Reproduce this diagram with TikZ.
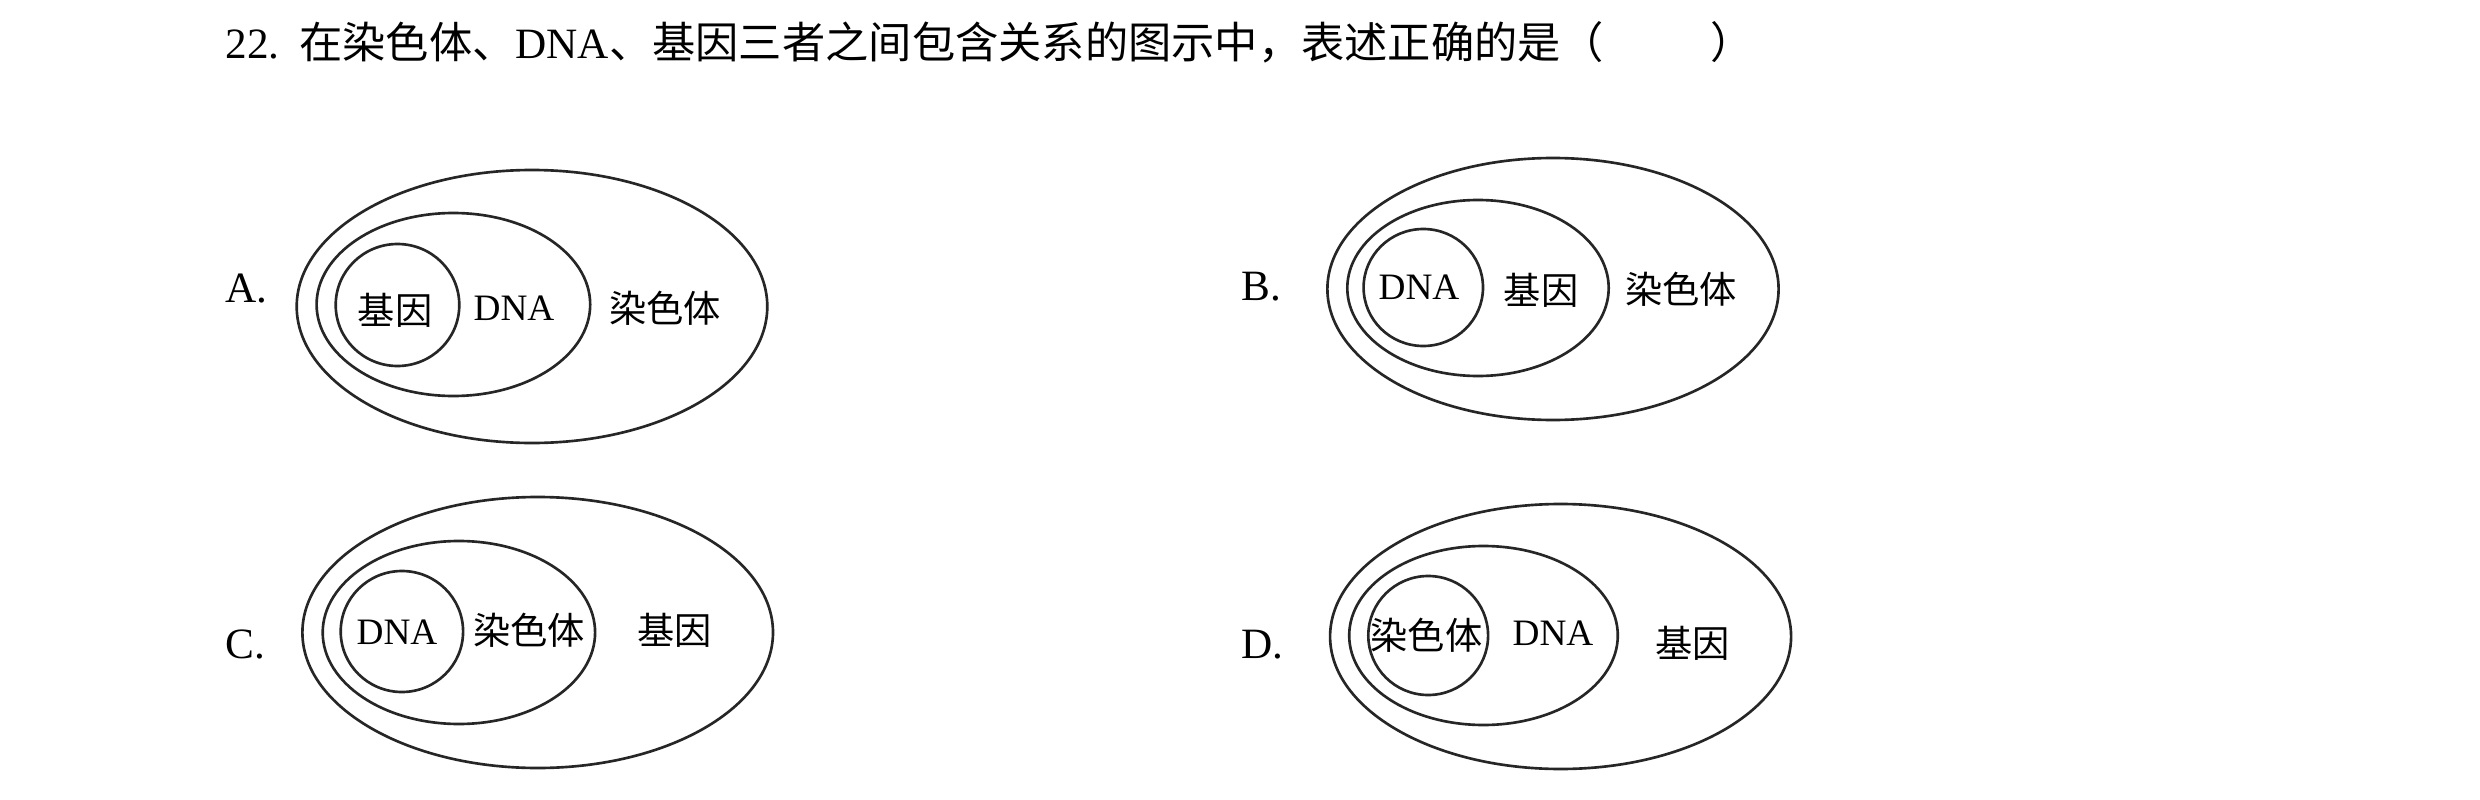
\documentclass[tikz,border=0pt]{standalone}
\usepackage{fontspec}
\setmainfont{Liberation Serif}
\newfontfamily\cjk{Noto Sans CJK SC}
\tikzset{
  ring/.style={draw=black!85, line width=0.75pt},
  lab/.style={inner sep=0pt, font=\fontsize{10.6pt}{12pt}\selectfont},
  opt/.style={inner sep=0pt, anchor=base west, font=\fontsize{12.3pt}{14pt}\selectfont},
}
\begin{document}
\begin{tikzpicture}[x=0.01cm,y=-0.01cm]
\useasboundingbox[fill=white] (0,0) rectangle (2480,800);
% title
\node[opt] (title) at (225,58) {22.\hspace{0.45em}{\cjk 在染色体、}DNA{\cjk 、基因三者之间包含关系的图示中，表述正确的是（\hspace{2.47em}）}};
% A
\node[opt] (la) at (225,302) {A.};
\draw[ring] (532,306.5) ellipse [x radius=235.3, y radius=136.5];
\draw[ring] (453.4,304.5) ellipse [x radius=136.8, y radius=91.5];
\draw[ring] (397.5,305) ellipse [x radius=61.8, y radius=61];
\node[lab] (a1) at (395,310) {\cjk 基因};
\node[lab] (a2) at (514,308) {DNA};
\node[lab] (a3) at (665,308) {\cjk 染色体};
% B
\node[opt] (lb) at (1241,300) {B.};
\draw[ring] (1553,289) ellipse [x radius=225.6, y radius=131];
\draw[ring] (1478,288) ellipse [x radius=130.7, y radius=88];
\draw[ring] (1423.3,287.5) ellipse [x radius=59.7, y radius=58.5];
\node[lab] (b1) at (1419,287) {DNA};
\node[lab] (b2) at (1541,290) {\cjk 基因};
\node[lab] (b3) at (1681,289) {\cjk 染色体};
% C
\node[opt] (lc) at (225,658) {C.};
\draw[ring] (537.7,632.5) ellipse [x radius=235.3, y radius=135.5];
\draw[ring] (458.9,632.5) ellipse [x radius=136.2, y radius=91.5];
\draw[ring] (401.9,631.5) ellipse [x radius=61.2, y radius=60.5];
\node[lab] (c1) at (397,632) {DNA};
\node[lab] (c2) at (529,630) {\cjk 染色体};
\node[lab] (c3) at (674.5,630) {\cjk 基因};
% D
\node[opt] (ld) at (1241,658) {D.};
\draw[ring] (1560.6,636.5) ellipse [x radius=230.5, y radius=132.5];
\draw[ring] (1483.5,635.5) ellipse [x radius=134.3, y radius=89.5];
\draw[ring] (1428.2,635.5) ellipse [x radius=59.9, y radius=59.5];
\node[lab] (d1) at (1426.6,635) {\cjk 染色体};
\node[lab] (d2) at (1553,633) {DNA};
\node[lab] (d3) at (1692.6,643) {\cjk 基因};
\end{tikzpicture}
\end{document}
